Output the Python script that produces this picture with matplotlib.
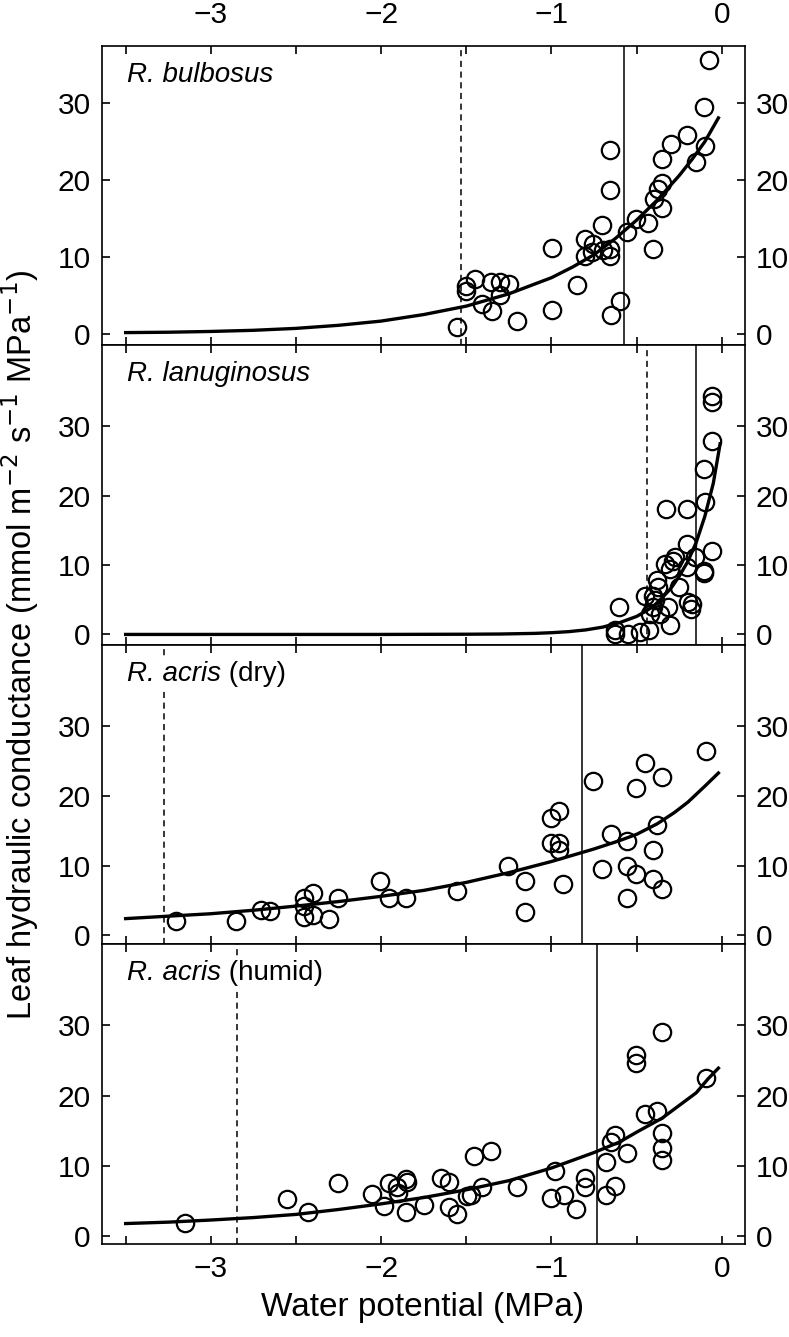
"""Leaf hydraulic conductance vs water potential, four stacked panels."""
import matplotlib
matplotlib.use('Agg')
import matplotlib.pyplot as plt

plt.rcParams['font.family'] = ['Liberation Sans', 'DejaVu Sans']

# ── R. bulbosus ──
bul_x = [-0.074, -0.104, -0.207, -0.301, -0.100, -0.154, -0.350, -0.657, -0.657, -0.354,
         -0.377, -0.399, -0.354, -0.432, -0.505, -0.556, -0.403, -0.706, -0.804, -0.755,
         -0.765, -0.804, -0.697, -0.657, -0.657, -0.999, -0.853, -0.999, -0.599, -0.653,
         -1.205, -1.553, -1.502, -1.502, -1.450, -1.357, -1.303, -1.248, -1.303, -1.410,
         -1.351]
bul_y = [35.6, 29.5, 25.9, 24.7, 24.4, 22.4, 22.7, 23.9, 18.7, 19.6,
         18.8, 17.6, 16.4, 14.4, 15.0, 13.2, 11.0, 14.1, 12.3, 11.7,
         10.7, 10.1, 10.9, 11.0, 10.1, 11.2, 6.3, 3.1, 4.2, 2.4,
         1.6, 0.9, 6.2, 5.6, 7.1, 6.8, 6.8, 6.5, 5.0, 3.9,
         3.0]
bul_fit_x = [-3.5, -3.25, -3.0, -2.75, -2.5, -2.25, -2.0, -1.75, -1.5, -1.25, -1.0, -0.875,
             -0.75, -0.625, -0.5, -0.375, -0.25, -0.175, -0.1, -0.02]
bul_fit_y = [0.15, 0.2, 0.3, 0.45, 0.7, 1.1, 1.65, 2.5, 3.6, 5.2, 7.3, 8.7,
             10.3, 12.4, 14.8, 17.5, 20.6, 22.7, 25.0, 28.1]

# ── R. lanuginosus ──
lan_x = [-0.055, -0.055, -0.055, -0.104, -0.100, -0.330, -0.207, -0.204, -0.055, -0.276,
         -0.158, -0.335, -0.289, -0.305, -0.204, -0.106, -0.106, -0.380, -0.374, -0.252,
         -0.452, -0.403, -0.393, -0.198, -0.174, -0.178, -0.603, -0.403, -0.315, -0.364,
         -0.423, -0.305, -0.628, -0.628, -0.550, -0.481, -0.427]
lan_y = [34.4, 33.5, 27.9, 23.8, 19.1, 18.1, 18.1, 13.1, 12.1, 11.1,
         11.1, 10.2, 10.6, 9.4, 9.7, 9.2, 8.9, 7.8, 6.8, 6.8,
         5.6, 5.6, 4.9, 4.7, 4.4, 3.7, 3.9, 3.9, 3.9, 3.0,
         3.0, 1.3, 0.6, 0.0, 0.1, 0.3, 0.6]
lan_fit_x = [-3.5, -2.0, -1.5, -1.3, -1.1, -1.0, -0.9, -0.8, -0.7, -0.6, -0.5, -0.45, -0.4,
             -0.35, -0.3, -0.25, -0.2, -0.15, -0.1, -0.05, -0.01]
lan_fit_y = [0.0, 0.0, 0.03, 0.06, 0.15, 0.25, 0.4, 0.65, 1.05, 1.7, 2.6, 3.3, 4.1,
             5.3, 6.6, 8.4, 10.5, 13.3, 17.0, 21.8, 27.5]

# ── R. acris (dry) ──
dry_x = [-3.204, -2.854, -2.705, -2.653, -2.451, -2.402, -2.451, -2.451, -2.398, -2.304,
         -2.252, -2.007, -1.952, -1.855, -1.553, -1.254, -1.156, -1.156, -0.931, -1.000,
         -0.955, -1.000, -0.955, -0.955, -0.755, -0.706, -0.653, -0.556, -0.556, -0.505,
         -0.556, -0.505, -0.452, -0.354, -0.380, -0.403, -0.403, -0.350, -0.090]
dry_y = [2.0, 2.1, 3.7, 3.5, 5.3, 6.1, 4.2, 2.6, 2.9, 2.4,
         5.3, 7.8, 5.4, 5.3, 6.3, 9.9, 7.8, 3.3, 7.3, 16.8,
         17.8, 13.3, 13.2, 12.3, 22.1, 9.5, 14.5, 13.6, 9.9, 8.8,
         5.3, 21.1, 24.7, 22.7, 15.9, 12.3, 8.1, 6.6, 26.5]
dry_fit_x = [-3.5, -3.25, -3.0, -2.75, -2.5, -2.25, -2.0, -1.75, -1.5, -1.25, -1.0, -0.75,
             -0.6, -0.5, -0.38, -0.28, -0.2, -0.1, -0.02]
dry_fit_y = [2.4, 2.75, 3.1, 3.6, 4.2, 4.85, 5.6, 6.45, 7.6, 9.0, 10.6, 12.4,
             13.6, 14.5, 16.0, 17.6, 19.1, 21.4, 23.3]

# ── R. acris (humid) ──
hum_x = [-3.151, -2.555, -2.428, -2.255, -2.052, -1.982, -1.952, -1.909, -1.903, -1.855,
         -1.851, -1.855, -1.749, -1.651, -1.602, -1.602, -1.553, -1.498, -1.475, -1.405,
         -1.454, -1.356, -1.205, -0.980, -1.000, -0.924, -0.857, -0.804, -0.804, -0.681,
         -0.628, -0.681, -0.556, -0.653, -0.628, -0.452, -0.380, -0.354, -0.354, -0.354,
         -0.505, -0.505, -0.354, -0.090]
hum_y = [1.9, 5.3, 3.5, 7.6, 6.0, 4.3, 7.5, 7.0, 6.1, 8.1,
         7.7, 3.5, 4.4, 8.3, 7.7, 4.1, 3.1, 5.7, 5.8, 7.0,
         11.4, 12.1, 7.0, 9.3, 5.5, 5.9, 3.9, 8.3, 7.0, 5.9,
         7.1, 10.5, 11.8, 13.4, 14.4, 17.4, 17.8, 14.7, 12.6, 10.9,
         25.8, 24.7, 29.1, 22.5]
hum_fit_x = [-3.5, -3.25, -3.0, -2.75, -2.5, -2.25, -2.0, -1.75, -1.5, -1.25, -1.0, -0.75,
             -0.6, -0.5, -0.35, -0.25, -0.15, -0.08, -0.02]
hum_fit_y = [1.8, 2.0, 2.3, 2.65, 3.1, 3.8, 4.6, 5.5, 6.6, 7.9, 9.7, 11.9,
             13.4, 14.8, 16.8, 18.6, 20.4, 22.4, 23.9]

# reference lines (dashed, solid) per panel
dashed_at = [-1.532, -0.442, -3.275, -2.845]
solid_at = [-0.573, -0.153, -0.820, -0.732]

species = ['R. bulbosus', 'R. lanuginosus', 'R. acris', 'R. acris']
conditions = ['', '', ' (dry)', ' (humid)']
ylims = [(-1.5, 37.5), (-1.5, 41.7), (-1.3, 41.7), (-1.1, 41.5)]
panels = [(bul_x, bul_y, bul_fit_x, bul_fit_y), (lan_x, lan_y, lan_fit_x, lan_fit_y),
          (dry_x, dry_y, dry_fit_x, dry_fit_y), (hum_x, hum_y, hum_fit_x, hum_fit_y)]

fig = plt.figure(figsize=(7.89, 13.37), dpi=100)
gs = fig.add_gridspec(4, 1, left=0.129, right=0.944, top=0.9658, bottom=0.0696, hspace=0)

box = dict(facecolor='white', edgecolor='none', pad=2)
for i, (px, py, fx, fy) in enumerate(panels):
    ax = fig.add_subplot(gs[i])
    ax.axvline(dashed_at[i], color='black', lw=1.1, ls=(0, (4, 3)), zorder=1)
    ax.axvline(solid_at[i], color='black', lw=1.1, zorder=1)
    ax.plot(fx, fy, color='black', lw=2.4, zorder=2, solid_joinstyle='round')
    ax.plot(px, py, 'o', mfc='none', mec='black', ms=12.5, mew=1.6, zorder=3)
    t = ax.text(0.039, 0.88, species[i], transform=ax.transAxes, fontsize=20,
                style='italic', va='baseline', ha='left', zorder=4.2, bbox=box)
    if conditions[i]:
        # drawn under the italic part so its box does not clip the slanted letter
        ax.annotate(conditions[i], xy=(1, 0), xycoords=t, va='bottom', ha='left',
                    fontsize=20, zorder=4.1, bbox=box)

    ax.set_xlim(-3.64, 0.135)
    ax.set_ylim(*ylims[i])
    ax.set_xticks([-3, -2, -1, 0])
    ax.set_xticks([-3.5, -2.5, -1.5, -0.5], minor=True)
    ax.set_yticks([0, 10, 20, 30])
    ax.tick_params(axis='x', which='both', direction='in', top=True, bottom=True,
                   length=6, width=1.2, labelsize=21.5,
                   labeltop=(i == 0), labelbottom=(i == 3), pad=12 if i == 0 else 8)
    ax.tick_params(axis='y', direction='in', left=True, right=True, labelleft=True,
                   labelright=True, length=5.5, width=1.2, labelsize=21.5, pad=8)
    for sp in ax.spines.values():
        sp.set_linewidth(1.2)

fig.text(0.026, 0.5176,
         r'Leaf hydraulic conductance (mmol m$^{-2}$ s$^{-1}$ MPa$^{-1}$)',
         rotation=90, ha='center', va='center', fontsize=23.5)
fig.text(0.536, 0.0224, 'Water potential (MPa)', ha='center', va='center', fontsize=24)

fig.savefig('out.png', dpi=100)
